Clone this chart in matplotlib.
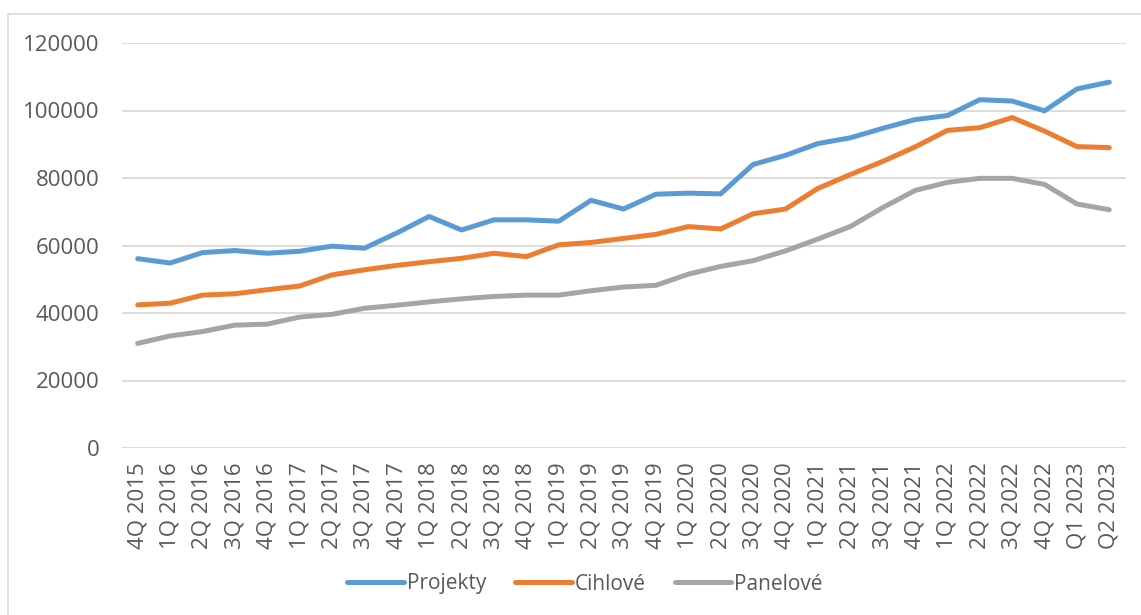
import matplotlib.pyplot as plt
from matplotlib.patches import Rectangle

quarters = ['4Q 2015', '1Q 2016', '2Q 2016', '3Q 2016', '4Q 2016', '1Q 2017', '2Q 2017',
            '3Q 2017', '4Q 2017', '1Q 2018', '2Q 2018', '3Q 2018', '4Q 2018', '1Q 2019',
            '2Q 2019', '3Q 2019', '4Q 2019', '1Q 2020', '2Q 2020', '3Q 2020', '4Q 2020',
            '1Q 2021', '2Q 2021', '3Q 2021', '4Q 2021', '1Q 2022', '2Q 2022', '3Q 2022',
            '4Q 2022', 'Q1 2023', 'Q2 2023']

projekty = [56100, 54800, 57900, 58500, 57700, 58300, 59800, 59200, 63700, 68600,
            64600, 67600, 67600, 67200, 73400, 70800, 75200, 75500, 75300, 84000,
            86700, 90200, 91900, 94700, 97300, 98500, 103200, 102800, 99900, 106400, 108400]
cihlove = [42400, 42900, 45300, 45700, 46900, 48000, 51300, 52800, 54100, 55200,
           56200, 57700, 56700, 60200, 60900, 62100, 63300, 65600, 64900, 69400,
           70800, 76900, 81000, 84900, 89200, 94100, 94900, 97900, 93900, 89300, 89000]
panelove = [31000, 33200, 34500, 36400, 36700, 38800, 39600, 41400, 42300, 43300,
            44200, 44900, 45300, 45300, 46600, 47700, 48200, 51500, 53800, 55500,
            58400, 61900, 65600, 71200, 76300, 78700, 79900, 79900, 78100, 72300, 70600]

series = [('Projekty', projekty, '#5B9BD5'),
          ('Cihlové', cihlove, '#ED7D31'),
          ('Panelové', panelove, '#A5A5A5')]

plt.rcParams['font.family'] = ['Open Sans', 'DejaVu Sans']
txt = '#595959'

fig = plt.figure(figsize=(11.41, 6.15), dpi=100)
# light frame of the chart area (runs off the right and bottom edges)
fig.patches.append(Rectangle((8 / 1141, -0.1), 1.2, 1.1 - 13.5 / 615,
                             transform=fig.transFigure, fill=False,
                             edgecolor='#D9D9D9', linewidth=1.2))
ax = fig.add_axes([121.5 / 1141, 1 - 448 / 615, 1004 / 1141, 405 / 615])

x = list(range(len(quarters)))
for name, vals, col in series:
    ax.plot(x, vals, color=col, linewidth=3.6, label=name, solid_capstyle='round',
            solid_joinstyle='round')

ax.set_xlim(-0.5, len(quarters) - 0.5)
ax.set_ylim(0, 120000)
ax.set_yticks(range(0, 120001, 20000))
ax.set_xticks(x)
ax.set_xticklabels(quarters, rotation=90)
ax.grid(axis='y', color='#D9D9D9', linewidth=1.3)
ax.set_axisbelow(True)
for s in ax.spines.values():
    s.set_visible(False)
ax.tick_params(axis='both', length=0, labelsize=16, labelcolor=txt)
ax.tick_params(axis='x', pad=10)
ax.tick_params(axis='y', pad=16)

fig.legend(loc='center', bbox_to_anchor=(585 / 1141, 1 - 584 / 615), ncol=3,
           frameon=False, fontsize=15, labelcolor=txt, handlelength=2.7,
           handletextpad=0.15, columnspacing=1.4)

fig.savefig('out.png', dpi=100)
